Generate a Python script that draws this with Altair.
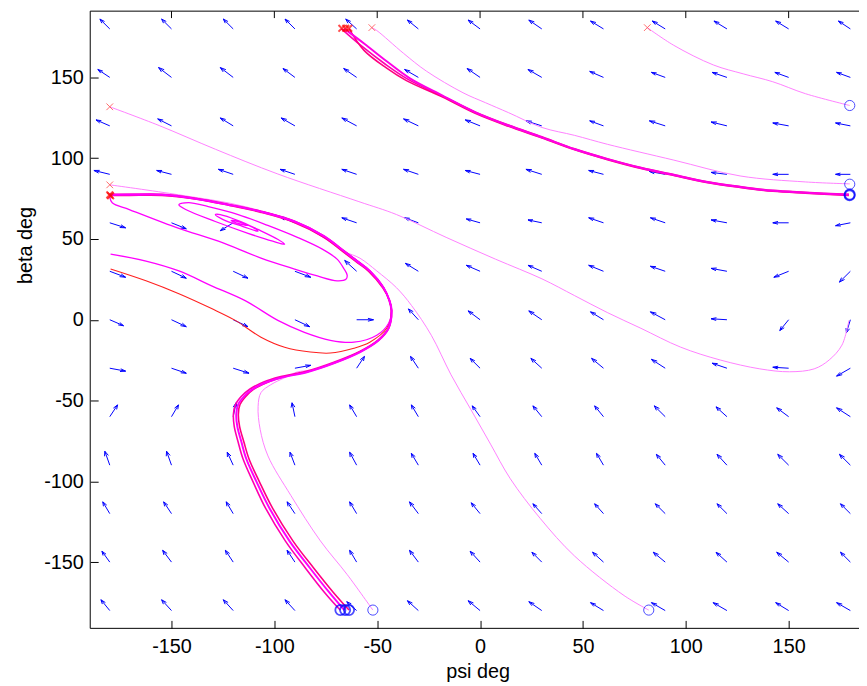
import altair as alt
import pandas as pd

# ---------------- axes ----------------
X_DOMAIN = [-189.5, 184.2]
Y_DOMAIN = [-191, 191]
TICKS = [-150, -100, -50, 0, 50, 100, 150]
W, H = 776, 623
FONT = "Liberation Sans"

# ---------------- quiver field ----------------
grid_psi = [-180, -150, -120, -90, -60, -30, 0, 30, 60, 90, 120, 150, 180]
grid_beta = [180, 150, 120, 90, 60, 30, 0, -30, -60, -90, -120, -150, -180]
U = [
    [-4.8, -4.8, -4.8, -4.8, -5.3, -5.3, -5.8, -6.3, -6.3, -6.3, -6.3, -6.3, -5.8],
    [-5.8, -6.3, -6.3, -5.8, -6.3, -6.7, -6.3, -6.7, -6.7, -6.7, -7.2, -6.7, -6.7],
    [-6.7, -6.7, -6.3, -6.7, -7.2, -7.2, -7.2, -7.7, -6.7, -7.7, -7.7, -7.7, -7.2],
    [-7.7, -7.2, -7.2, -7.2, -7.2, -7.2, -7.2, -7.7, -7.2, -7.7, -7.7, -7.7, -7.2],
    [7.7, 7.2, -6.3, -7.2, -7.2, -6.7, -6.7, -6.7, -7.2, -7.2, -7.7, -7.7, -7.2],
    [7.7, 7.2, 7.2, 7.7, -5.8, -6.3, -6.7, -6.7, -7.2, -7.2, -7.7, -7.2, -5.3],
    [6.7, 7.2, 7.2, 7.2, 8.2, -4.8, -5.8, -6.3, -6.3, -7.2, -7.7, -4.3, -1.9],
    [7.7, 7.2, 7.7, 7.7, 3.8, -3.8, -4.8, -5.3, -5.8, -6.7, -7.2, -7.7, -6.7],
    [3.8, 3.4, 1.4, -1.4, -3.4, -3.4, -3.8, -4.3, -4.3, -5.3, -5.3, -5.8, -6.7],
    [-2.4, -2.4, -2.9, -2.4, -3.4, -3.4, -3.4, -3.4, -3.4, -4.3, -4.8, -5.3, -5.3],
    [-3.4, -3.8, -3.4, -3.8, -3.4, -4.3, -4.3, -4.3, -4.3, -4.8, -4.8, -5.3, -4.8],
    [-3.8, -4.3, -3.8, -3.8, -3.4, -4.3, -4.8, -4.8, -5.3, -5.8, -5.3, -5.8, -4.8],
    [-4.3, -4.8, -4.8, -4.8, -4.8, -5.3, -5.8, -6.3, -6.3, -6.7, -6.7, -6.3, -6.7],
]
V = [
    [6.1, 6.1, 6.1, 6.1, 6.1, 5.5, 5.5, 5.5, 4.9, 4.9, 4.9, 4.9, 4.9],
    [4.9, 6.1, 6.1, 5.5, 5.5, 4.9, 5.5, 4.9, 3.7, 3.1, 3.1, 3.1, 3.1],
    [3.7, 4.3, 4.9, 4.9, 4.9, 4.3, 3.7, 3.1, 3.1, 3.1, 2.4, 1.8, 1.8],
    [2.4, 2.4, 3.1, 3.1, 3.1, 3.1, 2.4, 3.1, 2.4, 1.8, 1.2, 0.0, 0.0],
    [-3.1, -3.7, -4.9, 3.7, 3.1, 3.1, 2.4, 1.8, 3.1, 3.1, 1.8, 0.0, -1.8],
    [-3.7, -4.3, -4.3, -3.7, 6.7, 4.9, 3.7, 3.7, 3.7, 3.1, 1.8, -3.7, -6.7],
    [-3.7, -4.3, -4.3, -4.3, 0.0, 6.7, 5.5, 5.5, 4.9, 4.9, 0.6, -6.7, -8.0],
    [-1.8, -3.1, -3.1, 1.8, 7.3, 7.3, 6.1, 6.1, 6.1, 5.5, 3.1, 0.6, -4.9],
    [7.3, 7.3, 8.6, 8.6, 7.3, 7.3, 6.7, 6.7, 6.7, 6.7, 6.1, 5.5, 5.5],
    [8.6, 8.6, 8.0, 8.0, 8.0, 7.3, 7.3, 7.3, 7.3, 6.7, 6.7, 6.7, 6.7],
    [7.3, 7.3, 7.3, 7.3, 7.3, 7.3, 6.7, 6.1, 6.1, 6.1, 6.1, 6.1, 6.1],
    [6.7, 7.3, 7.3, 7.3, 7.3, 7.3, 6.7, 6.1, 6.1, 6.1, 6.1, 6.1, 6.1],
    [6.7, 6.7, 6.7, 6.7, 5.5, 6.1, 6.1, 5.5, 4.9, 4.9, 4.9, 4.9, 4.9],
]

# ---------------- trajectories ----------------
s1_x = [-180.0, -156.0, -128.6, -98.3, -58.9, -40.6, -16.5, 7.5, 30.1, 46.0, 61.8, 78.2, 97.4, 116.7, 136.0, 150.4, 162.4, 169.7, 175.9, 179.3]
s1_y = [131.8, 120.2, 105.5, 90.2, 73.1, 65.1, 51.0, 37.5, 25.3, 14.9, 4.5, -5.3, -16.9, -24.9, -30.4, -32.2, -30.4, -24.9, -15.7, -0.4]
s2_x = [179.7, 158.2, 142.3, 127.9, 113.4, 94.1, 81.3]
s2_y = [132.6, 139.9, 147.3, 152.2, 157.7, 169.9, 180.8]
s3_x = [82.0, 70.0, 45.9, 29.2, 14.7, 5.1, -4.5, -14.1, -23.7, -33.3, -40.6, -50.2, -58.4, -66.1, -82.4, -114.2, -146.4, -180.0]
s3_y = [-179.7, -170.7, -146.2, -122.9, -98.4, -77.0, -55.5, -34.1, -9.6, 8.8, 19.8, 30.2, 38.1, 42.4, 56.5, 70.0, 77.3, 83.5]
s4_x = [179.7, 158.1, 126.4, 94.2, 61.9, 46.0, 30.1, 13.8, 2.7, -8.3, -26.1, -37.2, -50.2, -52.6]
s4_y = [84.1, 85.3, 89.0, 98.8, 108.6, 114.1, 119.0, 128.2, 134.3, 140.5, 153.9, 164.9, 179.0, 180.8]
s5_x = [-52.1, -64.6, -77.6, -92.0, -103.1, -106.9, -107.9, -106.5, -101.7, -95.0, -88.8, -83.9]
s5_y = [-179.7, -157.7, -136.9, -108.7, -84.3, -67.8, -53.7, -45.1, -40.2, -35.9, -32.3, -31.6]

b1_x = [-66.0, -73.3, -82.8, -92.6, -102.3, -108.7, -113.6, -116.0, -118.0, -118.5, -117.6, -114.8, -111.0, -104.4, -96.7, -83.8, -70.8, -58.3, -49.3, -44.5, -43.0, -44.0, -46.9, -53.6, -59.9, -66.1, -75.7, -90.2, -106.5, -122.4, -138.3, -154.6, -170.5, -180.0]
b1_y = [-179.7, -168.8, -153.5, -137.0, -116.8, -100.2, -86.2, -75.7, -66.0, -58.6, -52.5, -47.6, -43.3, -39.0, -35.9, -32.3, -26.8, -20.0, -12.7, -5.3, 5.7, 11.8, 19.8, 30.2, 36.3, 42.4, 51.6, 60.8, 66.9, 71.2, 74.9, 77.3, 77.3, 77.3]
b2_x = [-63.7, -71.3, -81.0, -90.9, -100.8, -107.3, -112.3, -114.8, -116.9, -117.5, -116.7, -114.0, -110.3, -103.8, -96.3, -83.5, -70.6, -58.2, -49.2, -44.4, -43.0, -44.0, -47.2, -54.0, -60.3, -66.5, -76.1, -90.6, -106.8, -122.6, -138.4, -154.6, -170.5, -180.0]
b2_y = [-179.7, -168.8, -153.5, -137.0, -116.8, -100.2, -86.2, -75.7, -66.0, -58.6, -52.5, -47.6, -43.3, -39.0, -35.6, -32.0, -26.6, -19.8, -12.6, -5.2, 5.7, 11.8, 19.6, 29.8, 35.9, 42.0, 51.2, 60.4, 66.6, 71.0, 74.8, 77.0, 77.0, 77.0]
b3_x = [-68.0, -75.6, -85.0, -94.6, -104.2, -110.4, -115.2, -117.6, -119.5, -119.9, -118.9, -116.0, -112.0, -105.2, -97.3, -84.2, -71.1, -58.5, -49.5, -44.6, -43.2, -44.2, -47.0, -53.8, -60.0, -66.2, -75.9, -90.4, -106.6, -122.5, -138.3, -154.6, -170.5, -180.0]
b3_y = [-179.7, -168.8, -153.5, -137.0, -116.8, -100.2, -86.2, -75.7, -66.0, -58.6, -52.5, -47.4, -43.0, -38.5, -35.3, -31.8, -26.3, -19.6, -12.4, -5.2, 5.7, 11.9, 20.1, 30.5, 36.6, 42.7, 51.9, 61.1, 67.2, 71.5, 75.2, 77.6, 77.6, 77.6]

t1_x = [179.3, 158.1, 142.3, 126.4, 110.0, 94.2, 78.3, 61.9, 46.0, 30.1, 13.8, -2.1, -18.0, -34.3, -45.4, -56.4, -66.1]
t1_y = [77.3, 78.6, 79.8, 82.2, 85.3, 89.6, 93.9, 99.4, 105.5, 112.9, 120.2, 128.2, 138.6, 149.6, 160.0, 171.0, 180.2]
t2_x = [179.3, 158.1, 142.3, 126.4, 110.0, 94.2, 78.3, 61.9, 46.0, 30.1, 13.8, -2.1, -18.2, -35.8, -45.4, -56.4, -63.7]
t2_y = [77.0, 78.3, 79.5, 81.9, 85.0, 89.3, 93.6, 99.1, 105.2, 112.5, 119.7, 127.6, 137.8, 148.0, 155.7, 166.7, 180.2]
t3_x = [179.3, 158.1, 142.3, 126.4, 110.0, 94.2, 78.3, 61.9, 46.0, 30.1, 13.8, -2.1, -18.1, -35.0, -46.5, -57.8, -67.5]
t3_y = [77.6, 78.9, 80.1, 82.5, 85.6, 89.9, 94.2, 99.7, 105.8, 113.2, 120.5, 128.5, 138.3, 148.8, 158.6, 169.6, 180.2]

sp_x = [-180.0, -178.8, -170.5, -146.4, -127.2, -106.5, -90.2, -79.1, -69.5, -65.2, -64.6, -66.1, -69.5, -76.7, -88.8, -103.2, -117.6, -132.1, -141.7, -146.4, -143.1, -128.7, -112.8, -100.8, -95.0, -98.4, -108.0, -117.6, -126.3, -128.7, -124.9, -115.2, -108.0, -110.4, -117.6, -121.0, -117.6, -112.8, -114.7, -116.2]
sp_y = [76.1, 72.4, 68.2, 56.5, 48.6, 38.2, 31.4, 27.1, 24.1, 25.0, 27.6, 31.4, 37.5, 43.7, 51.0, 58.4, 65.1, 70.0, 72.5, 71.2, 68.2, 60.8, 53.5, 48.6, 46.7, 49.8, 55.9, 61.4, 65.1, 65.1, 62.0, 57.7, 54.7, 57.1, 60.8, 61.4, 59.6, 58.4, 59.6, 60.2]
c2_x = [-179.6, -162.4, -146.4, -130.5, -114.2, -98.3, -85.4, -72.8, -61.3, -50.2, -44.5, -43.0, -44.0, -46.9, -53.6, -66.1, -90.2, -122.4, -154.6, -180.0]
c2_y = [40.6, 36.3, 30.2, 21.0, 11.8, -0.4, -7.8, -12.7, -13.9, -9.6, -2.3, 5.7, 11.8, 19.8, 30.2, 42.4, 60.8, 71.2, 77.3, 77.3]
c3_x = [-179.6, -162.4, -146.4, -130.5, -119.0, -106.5, -95.0, -82.5, -72.8, -61.3, -53.6, -45.4, -43.0, -44.0, -46.9, -53.6]
c3_y = [31.4, 24.1, 16.1, 6.9, -0.4, -10.8, -17.0, -20.0, -20.6, -17.6, -13.9, -5.3, 5.7, 11.8, 19.8, 30.2]

# ---------------- markers ----------------
xmark_thin_x = [-180.0, -180.0, -52.6, 81.3]
xmark_thin_y = [131.8, 83.5, 180.8, 180.8]
xmark_bold_x = [-180.0, -179.6, -67.2, -65.3, -63.8]
xmark_bold_y = [77.3, 76.7, 180.4, 180.4, 180.4]
circ_thin_x = [179.7, 179.7, -52.1, 82.0]
circ_thin_y = [132.6, 83.9, -179.7, -179.7]
circ_bold_x = [179.7, 179.6, -67.9, -65.6, -63.7]
circ_bold_y = [77.5, 77.0, -179.7, -179.7, -179.7]

# ---------------- build tables ----------------
ALPHA, BETA = 0.33, 0.33
seg = []
for i, b in enumerate(grid_beta):
    for j, p in enumerate(grid_psi):
        u, v = U[i][j], V[i][j]
        tx, ty = p + u, b + v
        seg.append({"x": p, "y": b, "x2": tx, "y2": ty})
        seg.append({"x": tx, "y": ty, "x2": tx - ALPHA * (u + BETA * v), "y2": ty - ALPHA * (v - BETA * u)})
        seg.append({"x": tx, "y": ty, "x2": tx - ALPHA * (u - BETA * v), "y2": ty - ALPHA * (v + BETA * u)})
seg_df = pd.DataFrame(seg)

# draw order: first listed is drawn first
series = [
    ("s1", s1_x, s1_y, "#ff80ff", 1.0),
    ("s2", s2_x, s2_y, "#ff80ff", 1.0),
    ("s3", s3_x, s3_y, "#ff80ff", 1.0),
    ("s4", s4_x, s4_y, "#ff80ff", 1.0),
    ("s5", s5_x, s5_y, "#ff80ff", 1.0),
    ("c3", c3_x, c3_y, "#ff2020", 1.1),
    ("sp", sp_x, sp_y, "#ff00ff", 1.3),
    ("c2", c2_x, c2_y, "#ff00ff", 1.3),
    ("b3", b3_x, b3_y, "#ff00b0", 1.6),
    ("b2", b2_x, b2_y, "#ff0080", 1.6),
    ("b1", b1_x, b1_y, "#ff00ff", 2.0),
    ("t3", t3_x, t3_y, "#ff00b0", 1.6),
    ("t2", t2_x, t2_y, "#ff0080", 1.6),
    ("t1", t1_x, t1_y, "#ff00e6", 2.0),
]

xs_scale = alt.Scale(domain=X_DOMAIN, nice=False, zero=False)
ys_scale = alt.Scale(domain=Y_DOMAIN, nice=False, zero=False)

bottom_axis = alt.Axis(
    orient="bottom", values=TICKS, offset=-8, tickSize=8, tickColor="black", tickWidth=1,
    domain=False, grid=False, labelFont=FONT, labelFontSize=20, labelColor="black",
    labelPadding=8, labelFlush=False, labelExpr="'' + datum.value",
    title="psi deg", titleFont=FONT, titleFontSize=20,
    titleFontWeight="normal", titleColor="black", titleX=391, titleY=58,
    titleBaseline="alphabetic", titleAlign="center",
)
left_axis = alt.Axis(
    orient="left", values=TICKS, offset=-8, tickSize=8, tickColor="black", tickWidth=1,
    domain=False, grid=False, labelFont=FONT, labelFontSize=20, labelColor="black",
    labelPadding=7, labelFlush=False, labelExpr="'' + datum.value",
    title="beta deg", titleFont=FONT, titleFontSize=20,
    titleFontWeight="normal", titleColor="black", titleAngle=270, titleX=-67, titleY=236,
    titleBaseline="alphabetic", titleAlign="center",
)

arrows = alt.Chart(seg_df).mark_rule(color="#0000ff", strokeWidth=1, clip=True).encode(
    x=alt.X("x:Q", scale=xs_scale, axis=bottom_axis),
    y=alt.Y("y:Q", scale=ys_scale, axis=left_axis),
    x2="x2:Q", y2="y2:Q",
)

line_layers = []
for name, xs, ys, col, wd in series:
    d = pd.DataFrame({"x": xs, "y": ys, "k": list(range(len(xs)))})
    line_layers.append(
        alt.Chart(d).mark_line(clip=True, interpolate="catmull-rom", color=col, strokeWidth=wd).encode(
            x=alt.X("x:Q", scale=xs_scale, axis=None),
            y=alt.Y("y:Q", scale=ys_scale, axis=None),
            order="k:Q",
        )
    )

XPATH = "M-1,-1L1,1M1,-1L-1,1"
xm_thin = alt.Chart(pd.DataFrame({"x": xmark_thin_x, "y": xmark_thin_y})).mark_point(
    shape=XPATH, size=45, stroke="#ff3030", strokeWidth=1, filled=False, clip=True
).encode(x=alt.X("x:Q", scale=xs_scale, axis=None), y=alt.Y("y:Q", scale=ys_scale, axis=None))
xm_bold = alt.Chart(pd.DataFrame({"x": xmark_bold_x, "y": xmark_bold_y})).mark_point(
    shape=XPATH, size=45, stroke="#ff0000", strokeWidth=2, filled=False, clip=True
).encode(x=alt.X("x:Q", scale=xs_scale, axis=None), y=alt.Y("y:Q", scale=ys_scale, axis=None))
c_thin = alt.Chart(pd.DataFrame({"x": circ_thin_x, "y": circ_thin_y})).mark_point(
    shape="circle", size=105, stroke="#0000ff", strokeWidth=1, filled=False, clip=True
).encode(x=alt.X("x:Q", scale=xs_scale, axis=None), y=alt.Y("y:Q", scale=ys_scale, axis=None))
c_bold = alt.Chart(pd.DataFrame({"x": circ_bold_x, "y": circ_bold_y})).mark_point(
    shape="circle", size=105, stroke="#0000ff", strokeWidth=1.8, filled=False, clip=True
).encode(x=alt.X("x:Q", scale=xs_scale, axis=None), y=alt.Y("y:Q", scale=ys_scale, axis=None))

# inward ticks along the top edge
top_ticks = alt.Chart(pd.DataFrame({"t": TICKS})).mark_rule(color="black", strokeWidth=1).encode(
    x=alt.X("t:Q", scale=xs_scale, axis=None), y=alt.value(0), y2=alt.value(7))

one = pd.DataFrame({"a": [0]})
frame_left = alt.Chart(one).mark_rule(color="black", strokeWidth=1).encode(
    x=alt.value(0), y=alt.value(0), y2=alt.value(H))
frame_top = alt.Chart(one).mark_rule(color="black", strokeWidth=1).encode(
    x=alt.value(0), x2=alt.value(W), y=alt.value(0))
frame_bottom = alt.Chart(one).mark_rule(color="black", strokeWidth=1).encode(
    x=alt.value(0), x2=alt.value(W), y=alt.value(H))

chart = alt.layer(
    arrows, *line_layers, xm_thin, xm_bold, c_thin, c_bold, top_ticks,
    frame_left, frame_top, frame_bottom
).resolve_axis(x="independent", y="independent").properties(
    width=W, height=H,
    autosize=alt.AutoSizeParams(type="none"),
    padding={"left": 83, "top": 0, "right": 0, "bottom": 53},
    background="white",
).configure_view(strokeWidth=0)

chart.save("out.html", embed_options={"renderer": "svg", "actions": False})
